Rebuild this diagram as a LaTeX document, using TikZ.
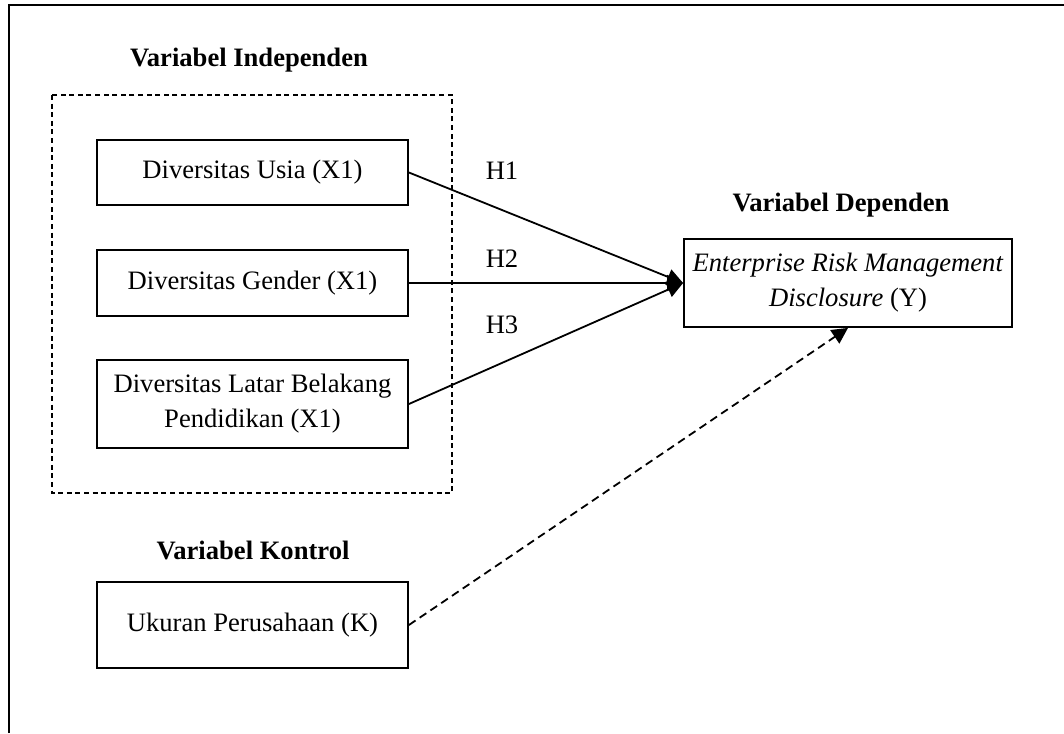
\documentclass[tikz,border=0pt]{standalone}
\usepackage{fontspec}
\setmainfont{Liberation Serif}
\usetikzlibrary{arrows.meta}

\begin{document}
\begin{tikzpicture}[x=0.5pt, y=-0.5pt, >={Triangle[length=8pt,width=8pt]},
  caja/.style={draw, line width=0.9pt, minimum width=155.5pt, inner sep=0pt, align=center, font=\fontsize{13.3}{17.5}\selectfont},
  titulo/.style={font=\bfseries\fontsize{13.3}{16}\selectfont},
  hipo/.style={font=\fontsize{13.3}{16}\selectfont}]
\useasboundingbox (0,0) rectangle (1064,733);

% Marco exterior (cortado a la derecha y abajo)
\draw[line width=1pt] (9,733) -- (9,5) -- (1064,5);

% Variables independientes
\node[titulo] (tInd) at (249,60) {Variabel Independen};
\draw[line width=0.8pt, dash pattern=on 2.5pt off 1.8pt] (52,95) rectangle (452,493); % Grupo X
\node[caja, minimum height=32.5pt] (X1) at (252.5,172.5) {Diversitas Usia (X1)};
\node[caja, minimum height=33pt] (X2) at (252.5,283) {Diversitas Gender (X1)};
\node[caja, minimum height=44pt] (X3) at (252.5,404) {Diversitas Latar Belakang\\Pendidikan (X1)};

% Variable de control
\node[titulo] (tKon) at (253,550) {Variabel Kontrol};
\node[caja, minimum height=43pt] (K) at (252.5,625) {Ukuran Perusahaan (K)};

% Variable dependiente
\node[titulo] (tDep) at (841,205) {Variabel Dependen};
\node[caja, minimum width=164pt, minimum height=44pt] (Y) at (848,283) {\textit{Enterprise Risk Management}\\\textit{Disclosure} (Y)};

% Hipotesis
\draw[->, line width=0.9pt] (X1.east) -- (Y.west);
\draw[->, line width=0.9pt] (X2.east) -- (Y.west);
\draw[->, line width=0.9pt] (X3.east) -- (Y.west);
\node[hipo] (H1) at (502,171) {H1};
\node[hipo] (H2) at (502,259) {H2};
\node[hipo] (H3) at (502,325) {H3};

\draw[->, line width=0.9pt, dash pattern=on 4pt off 2.5pt] (K.east) -- (Y.south);

\end{tikzpicture}
\end{document}
